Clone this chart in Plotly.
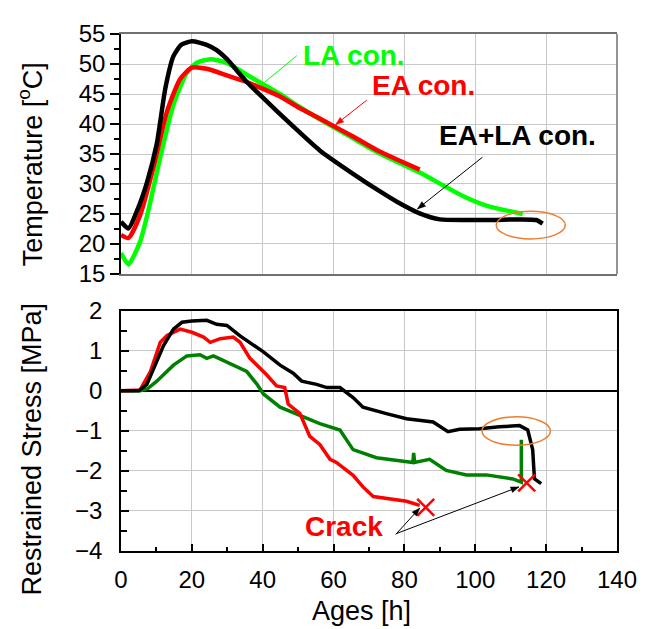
import math
import plotly.graph_objects as go

# temperature history [deg C] vs age [h]
ea_la_t_age = [0, 2.1, 4.5, 7.3, 10.1, 12.5, 14.8, 17, 20, 24.2, 27, 29.9, 35.5, 40.2, 48.6,
               56.1, 65.5, 73, 78, 84.3, 90, 98.4, 105, 112, 117.2, 119]
ea_la_t = [23.7, 22.6, 25.5, 30.2, 36.7, 45.9, 51.3, 53.2, 53.8, 53.2, 52.3, 50.8, 47.0, 44.3, 39.6,
           35.6, 31.7, 28.8, 27.0, 25.1, 24.1, 24.0, 24.0, 24.1, 24.0, 23.4]

la_t_age = [0, 2.1, 5.4, 7.8, 11.1, 14.8, 18.6, 21.4, 25.2, 29.9, 35.5, 41.1, 44.9, 50,
            56.1, 65.5, 73, 84.3, 96.5, 103.1, 113.4]
la_t = [18.5, 16.6, 20.4, 25.8, 34.5, 43.2, 48.6, 50.2, 50.8, 50.2, 48.2, 46.3, 45.0, 43.0,
        40.8, 37.6, 35.1, 31.9, 28.0, 26.4, 25.0]

ea_t_age = [0, 2.1, 5.4, 9.2, 13, 16.7, 20, 24.2, 29.9, 35.5, 41.1, 44.9, 50, 56.1, 65.5,
            73, 79, 84.3]
ea_t = [21.5, 21.0, 24.8, 32.9, 42.1, 47.5, 49.4, 49.2, 48.1, 47.0, 45.6, 44.6, 42.8, 40.9, 37.9,
        35.4, 33.8, 32.4]

# restrained stress [MPa] vs age [h]
ea_la_s_age = [0, 5, 7.3, 10.1, 12, 14.8, 17.2, 20, 24.2, 27, 29.9, 33.6, 40.2, 44.9, 48.6, 51,
               55.2, 58.1, 61.8, 65.5, 68.3, 74.9, 80.6, 88.1, 92.3, 95.6, 101.2, 106.8, 112.5,
               114.8, 116.2, 116.7, 118.6]
ea_la_s = [0, 0, 0.16, 0.72, 1.13, 1.54, 1.71, 1.74, 1.76, 1.66, 1.63, 1.37, 0.97, 0.64, 0.44, 0.24,
           0.16, 0.08, 0.08, -0.17, -0.41, -0.57, -0.70, -0.78, -1.02, -0.96, -0.95, -0.90, -0.87,
           -0.98, -1.47, -2.20, -2.32]

la_s_age = [0, 5.4, 7.5, 10.1, 14.8, 18.6, 22.3, 24.2, 26.1, 31.7, 35.5, 38.4, 40.2, 44.9, 50.5,
            56.1, 61.8, 65.5, 72.1, 79.6, 82.4, 82.6, 82.9, 87.1, 91.8, 97.5, 103.1, 110.6, 113, 113]
la_s = [0, 0, 0.05, 0.24, 0.64, 0.87, 0.90, 0.81, 0.87, 0.64, 0.48, 0.16, -0.08, -0.41, -0.62,
        -0.82, -0.98, -1.47, -1.67, -1.75, -1.79, -1.55, -1.79, -1.71, -1.99, -2.10, -2.10, -2.20,
        -2.28, -1.22]

ea_s_age = [0, 5.4, 8.3, 11.1, 13, 16.7, 20, 23.3, 25.2, 28, 31.7, 33.6, 36.4, 41.1, 43.9, 46.2,
            47.2, 50.5, 53.3, 56.1, 59, 60.8, 65.5, 68.3, 71.2, 76.8, 80.6, 84.3]
ea_s = [0, 0.02, 0.48, 1.21, 1.38, 1.54, 1.46, 1.34, 1.21, 1.30, 1.34, 1.21, 0.81, 0.40, 0.12, 0.08,
        -0.33, -0.57, -1.14, -1.34, -1.71, -1.79, -2.11, -2.40, -2.64, -2.72, -2.76, -2.86]

crack_age = [86, 114.5]
crack_s = [-2.91, -2.30]

FONT = "Arial, Liberation Sans, sans-serif"
GRID = "#c8c8c8"

fig = go.Figure()

# top panel: temperature
for ages, vals, col in [(la_t_age, la_t, "#00ff00"), (ea_t_age, ea_t, "#ff0000"),
                        (ea_la_t_age, ea_la_t, "#000000")]:
    fig.add_trace(go.Scatter(x=ages, y=vals, mode="lines",
                             line=dict(color=col, width=4.5, shape="spline", smoothing=0.6),
                             xaxis="x", yaxis="y"))

# bottom panel: stress
for ages, vals, col in [(la_s_age, la_s, "#008000"), (ea_s_age, ea_s, "#ff0000"),
                        (ea_la_s_age, ea_la_s, "#000000")]:
    fig.add_trace(go.Scatter(x=ages, y=vals, mode="lines", line=dict(color=col, width=3.5),
                             xaxis="x2", yaxis="y2"))

fig.add_trace(go.Scatter(x=crack_age, y=crack_s, mode="markers",
                         marker=dict(symbol="x-thin", size=17, line=dict(color="#ff0000", width=2.5)),
                         xaxis="x2", yaxis="y2"))

tickfont = dict(family=FONT, size=24, color="black")

# page body adds 8px, so the figure is 8px smaller than the window
fig.update_layout(
    width=648, height=621,
    margin=dict(l=113, r=38.5, t=13, b=78.3),
    paper_bgcolor="white", plot_bgcolor="white",
    showlegend=False,
    xaxis=dict(domain=[0, 1], anchor="y", range=[0, 140], dtick=20, showticklabels=False,
               showgrid=True, gridcolor=GRID, gridwidth=1, zeroline=False,
               showline=True, linecolor="#707070", linewidth=1.5, mirror=True, ticks=""),
    yaxis=dict(domain=[0.5358, 1], anchor="x", range=[15, 55], dtick=5,
               showgrid=True, gridcolor=GRID, gridwidth=1, zeroline=False,
               showline=True, linecolor="black", linewidth=1.5,
               ticks="outside", ticklen=9, tickwidth=1.5, tickcolor="black", tickfont=tickfont,
               minor=dict(dtick=2.5, ticks="outside", ticklen=5, tickwidth=1.5, tickcolor="black",
                          showgrid=False)),
    xaxis2=dict(domain=[0, 1], anchor="y2", range=[0, 140], dtick=20,
                showgrid=True, gridcolor=GRID, gridwidth=1, zeroline=False,
                showline=True, linecolor="black", linewidth=1.5, mirror=True,
                ticks="inside", ticklen=7, tickwidth=1.5, tickcolor="black",
                tickfont=tickfont, ticklabelstandoff=6,
                minor=dict(dtick=10, ticks="inside", ticklen=4, tickwidth=1.5, tickcolor="black",
                           showgrid=False)),
    yaxis2=dict(domain=[0, 0.4649], anchor="x2", range=[-4, 2], dtick=1,
                showgrid=True, gridcolor=GRID, gridwidth=1,
                zeroline=True, zerolinecolor="black", zerolinewidth=1.5,
                showline=True, linecolor="black", linewidth=1.5, mirror=True,
                ticks="inside", ticklen=8, tickwidth=1.5, tickcolor="black",
                tickfont=tickfont, ticklabelstandoff=12,
                minor=dict(dtick=0.5, ticks="inside", ticklen=6, tickwidth=1.5, tickcolor="black",
                           showgrid=False)),
)

# right border of the top panel (grey frame)
fig.add_shape(type="line", xref="paper", yref="paper", x0=1, x1=1, y0=0.5358, y1=1,
              line=dict(color="#707070", width=1.5))

# orange ellipses
fig.add_shape(type="circle", xref="x", yref="y", x0=105.9, x1=125.4, y0=20.85, y1=25.44,
              line=dict(color="#ed7d31", width=1.5))
fig.add_shape(type="circle", xref="x2", yref="y2", x0=101.9, x1=121.2, y0=-1.36, y1=-0.65,
              line=dict(color="#ed7d31", width=1.5))

# pixels per data unit, used to lay out the leader arrows
PX_X = 496.5 / 140
PX_T = 246.0 / 40
PX_S = 246.3 / 6


def leader(ax, ay, hx, hy, dx, dy, sy, color, head=True):
    """thin line from a tail offset (dx, dy px) to the head (hx, hy data)"""
    tx, ty = hx + dx / PX_X, hy - dy / sy
    fig.add_shape(type="line", xref=ax, yref=ay, x0=tx, y0=ty, x1=hx, y1=hy,
                  line=dict(color=color, width=1))
    if head:
        d = math.hypot(dx, dy)
        ux, uy = -dx / d, -dy / d           # direction tail -> head, pixel space
        bx, by = -ux * 8, -uy * 8            # back along the line
        px_, py_ = -uy * 3, ux * 3           # sideways
        pts = [(0, 0), (bx + px_, by + py_), (bx - px_, by - py_)]
        path = "M " + " L ".join(f"{hx + p / PX_X},{hy - q / sy}" for p, q in pts) + " Z"
        fig.add_shape(type="path", xref=ax, yref=ay, path=path, fillcolor=color,
                      line=dict(color=color, width=0.5))


leader("x", "y", 40.6, 47.0, 32, -27, PX_T, "#00ff00", head=False)
leader("x", "y", 60.6, 39.9, 31, -25, PX_T, "#ff0000")
leader("x", "y", 83.7, 25.85, 65, -53, PX_T, "#000000")
leader("x2", "y2", 84.3, -2.93, -24, 27, PX_S, "#000000")
leader("x2", "y2", 112.3, -2.40, -123, 48, PX_S, "#000000")

lab = dict(family=FONT, size=28)
bold = lambda t: "<b>" + t + "</b>"

fig.add_annotation(xref="x", yref="y", x=65.7, y=51.5, text=bold("LA con."), showarrow=False,
                   font=dict(lab, color="#00ff00"))
fig.add_annotation(xref="x", yref="y", x=85.5, y=46.4, text=bold("EA con."), showarrow=False,
                   font=dict(lab, color="#ff0000"))
fig.add_annotation(xref="x", yref="y", x=111.9, y=38.1, text=bold("EA+LA con."), showarrow=False,
                   font=dict(lab, color="#000000"))
fig.add_annotation(xref="x2", yref="y2", x=62.9, y=-3.4, text=bold("Crack"), showarrow=False,
                   font=dict(lab, color="#ff0000"))

# axis titles
title_font = dict(family=FONT, size=27, color="black")
fig.add_annotation(xref="paper", yref="paper", x=-0.183, y=0.7485, text="Temperature [<sup>o</sup>C]",
                   textangle=-90, showarrow=False, font=title_font, xanchor="center", yanchor="middle")
fig.add_annotation(xref="paper", yref="paper", x=-0.179, y=0.1966, text="Restrained Stress [MPa]",
                   textangle=-90, showarrow=False, font=title_font, xanchor="center", yanchor="middle")
fig.add_annotation(xref="paper", yref="paper", x=0.484, y=-0.1157, text="Ages [h]",
                   showarrow=False, font=title_font, xanchor="center", yanchor="middle")

fig.write_html("out.html")
